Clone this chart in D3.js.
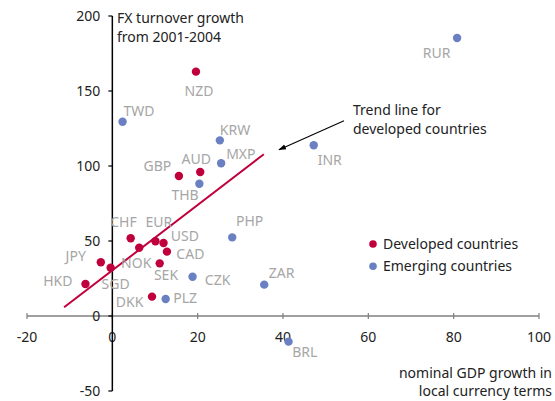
<!DOCTYPE html>
<html><head><meta charset="utf-8">
<script src="https://cdn.jsdelivr.net/npm/d3@7"></script>
<style>
html,body{margin:0;padding:0;background:#fff;}
text{font-family:"Noto Sans","Open Sans",sans-serif;}
</style></head>
<body><svg id="c" width="555" height="401"></svg>
<script>
// ---- data ----
const developedNames = ["NZD","GBP","AUD","CHF","EUR","USD","CAD","NOK","JPY","SGD","SEK","HKD","DKK"];
const developedX     = [19.6, 15.6, 20.6, 4.3, 10.1, 12.0, 12.8, 6.3, -2.7, -0.4, 11.1, -6.3, 9.3];
const developedY     = [162.9, 93.3, 96.0, 51.8, 49.8, 48.7, 42.9, 45.5, 35.8, 32.2, 35.1, 21.3, 12.9];

const emergingNames = ["TWD","KRW","MXP","THB","RUR","INR","PHP","CZK","ZAR","PLZ","BRL"];
const emergingX     = [2.4, 25.2, 25.5, 20.4, 80.8, 47.2, 28.1, 18.8, 35.6, 12.5, 41.3];
const emergingY     = [129.5, 117.1, 101.8, 88.2, 185.3, 113.8, 52.4, 26.2, 20.9, 11.3, -17.1];

const trendX = [-11.3, 35.5];
const trendY = [5.8, 107.8];

const xTicks = [-20, 0, 20, 40, 60, 80, 100];
const yTicks = [-50, 0, 50, 100, 150, 200];

const legendLabels = ["Developed countries", "Emerging countries"];

// ---- label layout (pixel offsets: anchor, dx, dy) ----
const labelLayout = {
  NZD:["middle",3,24], GBP:["end",-7.6,-5.3], AUD:["middle",-4,-8], CHF:["end",6,-11],
  EUR:["start",-10,-14], USD:["start",7.3,-2.3], CAD:["start",9.4,7], NOK:["middle",-3,20.6],
  JPY:["end",-15,-1.3], SGD:["middle",5,21.6], SEK:["middle",6.3,16.7], HKD:["end",-13,2],
  DKK:["end",-8.7,10.6],
  TWD:["start",1,-6], KRW:["start",0,-5], MXP:["start",5,-4], THB:["end",-0.7,16],
  RUR:["end",-6.6,19.7], INR:["start",4,20], PHP:["start",3.7,-11.3], CZK:["start",12.3,8.3],
  ZAR:["start",4.6,-6.4], PLZ:["start",7.6,3.7], BRL:["start",3.7,15]
};

const RED = "#c0003c", BLUE = "#6b80c2", GREY = "#a6a6a6", TXT = "#222";

const svg = d3.select("#c");
const x = d3.scaleLinear().domain([-20, 100]).range([27, 539]);
const y = d3.scaleLinear().domain([-50, 200]).range([391, 16]);

// x axis (at y=0)
const xAxisG = svg.append("g").attr("transform", `translate(0,${y(0)})`);
xAxisG.append("line").attr("x1", x(-20)).attr("x2", x(100)).attr("y1",0).attr("y2",0)
  .attr("stroke", "#7f7f7f").attr("stroke-width", 1.5);
xAxisG.selectAll("line.t").data(xTicks).enter().append("line").attr("class","t")
  .attr("x1", d => x(d)).attr("x2", d => x(d)).attr("y1", -3).attr("y2", 3)
  .attr("stroke", "#7f7f7f").attr("stroke-width", 1.2);
xAxisG.selectAll("text").data(xTicks).enter().append("text")
  .attr("x", d => x(d)).attr("y", 25.5).attr("text-anchor", "middle")
  .attr("font-size", 14).attr("fill", TXT).text(d => d);

// y axis (at x=0)
const yAxisG = svg.append("g").attr("transform", `translate(${x(0)},0)`);
yAxisG.append("line").attr("x1",0).attr("x2",0).attr("y1", y(-50)).attr("y2", y(200))
  .attr("stroke", "#000").attr("stroke-width", 1.5);
yAxisG.selectAll("line.t").data(yTicks).enter().append("line").attr("class","t")
  .attr("x1", -4).attr("x2", 0).attr("y1", d => y(d)).attr("y2", d => y(d))
  .attr("stroke", "#000").attr("stroke-width", 1.2);
yAxisG.selectAll("text").data(yTicks).enter().append("text")
  .attr("x", -12).attr("y", d => y(d)).attr("dy", "0.35em").attr("text-anchor", "end")
  .attr("font-size", 14).attr("fill", TXT).text(d => d);

// axis titles
const yTitle = svg.append("text").attr("x", 117).attr("y", 23).attr("font-size", 14).attr("fill", TXT);
yTitle.append("tspan").attr("x", 117).text("FX turnover growth");
yTitle.append("tspan").attr("x", 117).attr("dy", 19).text("from 2001-2004");
const xTitle = svg.append("text").attr("x", 552).attr("y", 378).attr("font-size", 14)
  .attr("fill", TXT).attr("text-anchor", "end");
xTitle.append("tspan").attr("x", 552).text("nominal GDP growth in");
xTitle.append("tspan").attr("x", 552).attr("dy", 18).text("local currency terms");

// trend line
svg.append("line")
  .attr("x1", x(trendX[0])).attr("y1", y(trendY[0]))
  .attr("x2", x(trendX[1])).attr("y2", y(trendY[1]))
  .attr("stroke", RED).attr("stroke-width", 2);

// points
const dev = developedNames.map((n, i) => ({name: n, x: developedX[i], y: developedY[i], c: RED}));
const emg = emergingNames.map((n, i) => ({name: n, x: emergingX[i], y: emergingY[i], c: BLUE}));
const all = dev.concat(emg);

svg.selectAll("text.lbl").data(all).enter().append("text").attr("class","lbl")
  .attr("x", d => x(d.x) + labelLayout[d.name][1])
  .attr("y", d => y(d.y) + labelLayout[d.name][2])
  .attr("text-anchor", d => labelLayout[d.name][0])
  .attr("font-size", 14).attr("fill", GREY).text(d => d.name);

svg.selectAll("circle.pt").data(all).enter().append("circle").attr("class","pt")
  .attr("cx", d => x(d.x)).attr("cy", d => y(d.y)).attr("r", 4.2).attr("fill", d => d.c);

// annotation arrow
svg.append("defs").append("marker").attr("id","ah").attr("viewBox","0 0 10 10")
  .attr("refX", 9).attr("refY", 5).attr("markerWidth", 7).attr("markerHeight", 7)
  .attr("orient", "auto").append("path").attr("d","M0,1.5 L10,5 L0,8.5 Z").attr("fill","#000");
svg.append("line").attr("x1", 344).attr("y1", 120.7).attr("x2", 279).attr("y2", 149.7)
  .attr("stroke", "#000").attr("stroke-width", 1.1).attr("marker-end", "url(#ah)");
const ann = svg.append("text").attr("x", 353).attr("y", 114.5).attr("font-size", 14).attr("fill", TXT);
ann.append("tspan").attr("x", 353).text("Trend line for");
ann.append("tspan").attr("x", 353).attr("dy", 19).text("developed countries");

// legend
const lg = svg.selectAll("g.lg").data(legendLabels).enter().append("g").attr("class","lg")
  .attr("transform", (d, i) => `translate(373,${244 + i * 22.3})`);
lg.append("circle").attr("r", 3.8).attr("fill", (d, i) => i === 0 ? RED : BLUE);
lg.append("text").attr("x", 10).attr("dy", "0.35em").attr("font-size", 14).attr("fill", TXT).text(d => d);
</script></body></html>
